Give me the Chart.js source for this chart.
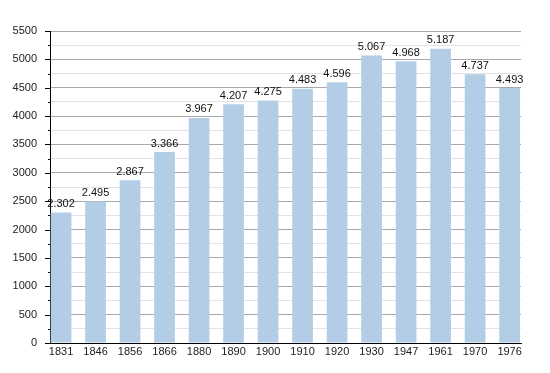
<!DOCTYPE html>
<html>
<head>
<meta charset="utf-8">
<script src="https://cdn.jsdelivr.net/npm/chart.js@4"></script>
<style>
  html, body { margin: 0; padding: 0; background: #fff; }
  #wrap { width: 550px; height: 373px; }
</style>
</head>
<body>
<div id="wrap"><canvas id="myChart" width="550" height="373"></canvas></div>
<script>
// Census years and population counts
const years = ['1831', '1846', '1856', '1866', '1880', '1890', '1900', '1910', '1920', '1930', '1947', '1961', '1970', '1976'];
const population = [2302, 2495, 2867, 3366, 3967, 4207, 4275, 4483, 4596, 5067, 4968, 5187, 4737, 4493];

// y axis: 0..5500, labelled every 500, minor lines every 250
const yMax = 5500;
const yMajor = 500;
const yMinor = 250;

function fmt(v) {
  return String(v).replace(/\B(?=(\d{3})+(?!\d))/g, '.');
}

// draws the value above each bar
const valueLabels = {
  id: 'valueLabels',
  afterDatasetsDraw(chart) {
    const ctx = chart.ctx;
    const meta = chart.getDatasetMeta(0);
    ctx.save();
    ctx.font = '11px "Liberation Sans", Arial, sans-serif';
    ctx.fillStyle = '#111';
    ctx.textAlign = 'center';
    ctx.textBaseline = 'middle';
    meta.data.forEach((bar, i) => {
      ctx.fillText(fmt(population[i]), bar.x, bar.y - 8.5);
    });
    ctx.restore();
  }
};

// tick marks on the y axis: long for majors, short for minors
const yTickMarks = {
  id: 'yTickMarks',
  afterDraw(chart) {
    const ctx = chart.ctx;
    const y = chart.scales.y;
    const x0 = chart.chartArea.left;
    ctx.save();
    ctx.strokeStyle = '#000';
    ctx.lineWidth = 1;
    y.ticks.forEach(t => {
      const py = Math.round(y.getPixelForValue(t.value)) + 0.5;
      const len = t.value % yMajor === 0 ? 5 : 2;
      ctx.beginPath();
      ctx.moveTo(x0 - len, py);
      ctx.lineTo(x0, py);
      ctx.stroke();
    });
    ctx.restore();
  }
};

const ctx = document.getElementById('myChart').getContext('2d');

new Chart(ctx, {
  type: 'bar',
  data: {
    datasets: [{
      data: years.map((yr, i) => ({ x: i, y: population[i] })),
      backgroundColor: '#b3cde7',
      borderWidth: 0,
      categoryPercentage: 1,
      barPercentage: 0.6
    }]
  },
  options: {
    responsive: false,
    animation: false,
    layout: { padding: { top: 31, right: 29, left: 0, bottom: 0 } },
    plugins: {
      legend: { display: false },
      tooltip: { enabled: false }
    },
    scales: {
      x: {
        type: 'linear',
        offset: false,
        min: -0.32,
        max: 13.33,
        afterBuildTicks: scale => { scale.ticks = years.map((_, i) => ({ value: i })); },
        afterFit: scale => { scale.height = 30; },
        grid: { display: false, drawTicks: false },
        border: { display: true, color: '#000', width: 1 },
        ticks: {
          autoSkip: false,
          maxRotation: 0,
          padding: 2,
          color: '#222',
          font: { family: '"Liberation Sans", Arial, sans-serif', size: 11 },
          callback: v => years[v]
        }
      },
      y: {
        min: 0,
        max: yMax,
        afterFit: scale => { scale.width = 50; },
        grid: {
          drawTicks: false,
          color: c => (c.tick && c.tick.value % yMajor === 0) ? '#a9a9a9' : '#e2e2e2',
          lineWidth: 1
        },
        border: { display: true, color: '#000', width: 1 },
        ticks: {
          stepSize: yMinor,
          autoSkip: false,
          padding: 13,
          color: '#222',
          font: { family: '"Liberation Sans", Arial, sans-serif', size: 11 },
          callback: v => (v % yMajor === 0 ? String(v) : '')
        }
      }
    }
  },
  plugins: [valueLabels, yTickMarks]
});
</script>
</body>
</html>
